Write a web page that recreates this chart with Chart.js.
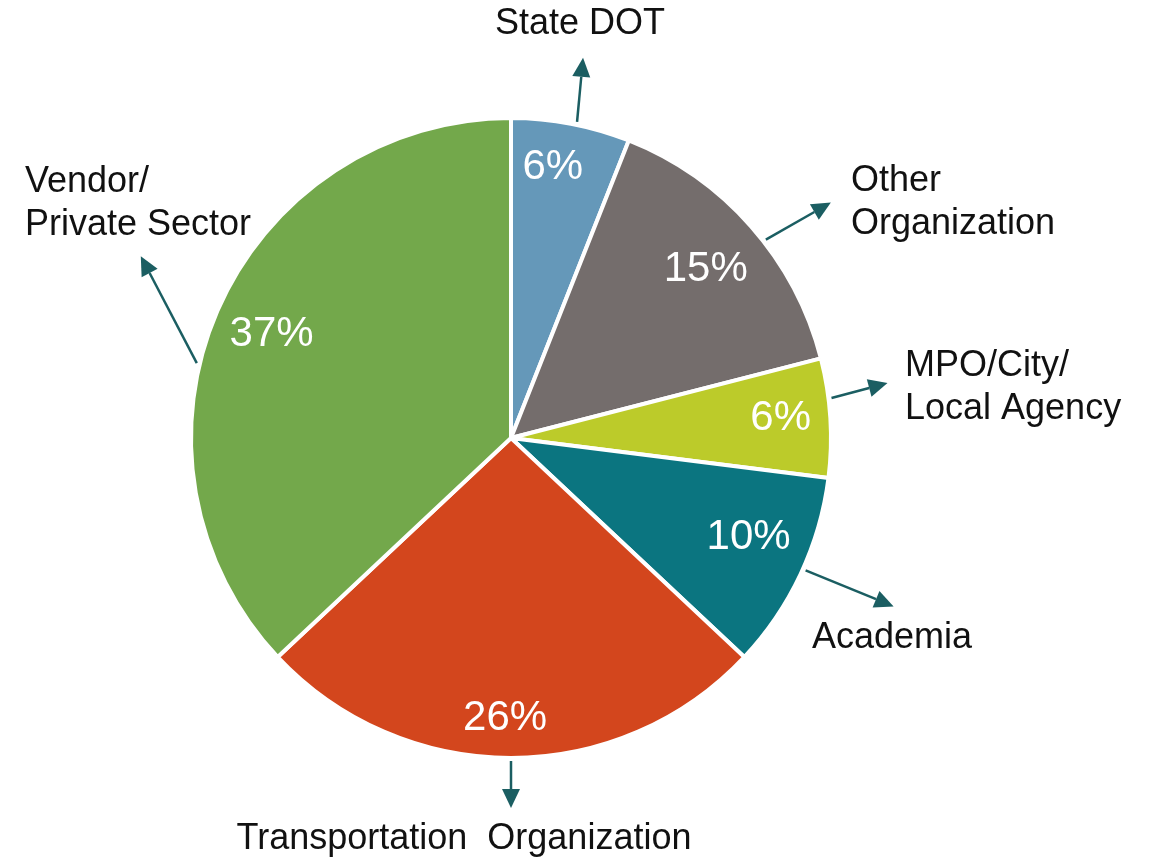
<!DOCTYPE html>
<html>
<head>
<meta charset="utf-8">
<script src="https://cdn.jsdelivr.net/npm/chart.js@4.4.1/dist/chart.umd.min.js"></script>
<style>
  html, body { margin: 0; padding: 0; background: #fff; }
  #wrap { width: 1152px; height: 859px; }
</style>
</head>
<body>
<div id="wrap"><canvas id="pie" width="1152" height="859"></canvas></div>
<script>
// data, clockwise from 12 o'clock
const categories = [
  ["State DOT"],
  ["Other", "Organization"],
  ["MPO/City/", "Local Agency"],
  ["Academia"],
  ["Transportation  Organization"],
  ["Vendor/", "Private Sector"]
];
const shares = [6, 15, 6, 10, 26, 37];
const sliceColors = ["#6598b9", "#746d6c", "#bccb2a", "#0b7580", "#d3461d", "#73a84b"];

// where each outside label sits (text anchor) and its arrow
const labelPos = [
  { x: 580, y: 24, align: "center" },
  { x: 851, y: 181, align: "left" },
  { x: 905, y: 366, align: "left" },
  { x: 812, y: 638, align: "left" },
  { x: 464, y: 839, align: "center" },
  { x: 25, y: 182, align: "left" }
];
// percent text: radius factor and angle shift (deg) from slice middle
const pctRadius = [0.855, 0.805, 0.845, 0.805, 0.875, 0.815];
const pctShift = [-2, 0.5, -0.6, -2.5, 1.2, 0];
// tail angle shift (deg) from slice middle, and arrow vector from tail
const arrowShift = [1, 3.5, -3.5, -1, 0, -10];
const arrowVec = [[6, -64], [65, -37], [56, -15], [88, 36], [0, 47], [-56, -107]];

const ARROW = "#1b5e62";

function drawArrow(ctx, x1, y1, x2, y2) {
  const a = Math.atan2(y2 - y1, x2 - x1);
  const len = 19, half = 9;
  const bx = x2 - len * Math.cos(a), by = y2 - len * Math.sin(a);
  ctx.strokeStyle = ARROW;
  ctx.lineWidth = 2.5;
  ctx.beginPath();
  ctx.moveTo(x1, y1);
  ctx.lineTo(bx, by);
  ctx.stroke();
  ctx.fillStyle = ARROW;
  ctx.beginPath();
  ctx.moveTo(x2, y2);
  ctx.lineTo(bx + half * Math.sin(a), by - half * Math.cos(a));
  ctx.lineTo(bx - half * Math.sin(a), by + half * Math.cos(a));
  ctx.closePath();
  ctx.fill();
}

const pieLabels = {
  id: "pieLabels",
  afterDatasetsDraw(chart) {
    const ctx = chart.ctx;
    const arcs = chart.getDatasetMeta(0).data;
    ctx.save();
    arcs.forEach((arc, i) => {
      const { x, y, startAngle, endAngle, outerRadius } = arc.getProps(["x", "y", "startAngle", "endAngle", "outerRadius"], true);
      const mid = (startAngle + endAngle) / 2;

      // percent inside the slice
      const r = outerRadius * pctRadius[i];
      const pa = mid + pctShift[i] * Math.PI / 180;
      ctx.fillStyle = "#ffffff";
      ctx.font = "42px 'Liberation Sans', Arial, sans-serif";
      ctx.textAlign = "center";
      ctx.textBaseline = "middle";
      ctx.fillText(shares[i] + "%", x + r * Math.cos(pa), y + r * Math.sin(pa));

      // arrow from the rim outward
      const t = mid + arrowShift[i] * Math.PI / 180;
      const tx = x + (outerRadius + 3) * Math.cos(t);
      const ty = y + (outerRadius + 3) * Math.sin(t);
      drawArrow(ctx, tx, ty, tx + arrowVec[i][0], ty + arrowVec[i][1]);

      // category text
      const p = labelPos[i];
      ctx.fillStyle = "#111111";
      ctx.font = "36px 'Liberation Sans', Arial, sans-serif";
      ctx.textAlign = p.align;
      categories[i].forEach((line, k) => {
        ctx.fillText(line, p.x, p.y + k * 43);
      });
    });
    ctx.restore();
  }
};

new Chart(document.getElementById("pie"), {
  type: "pie",
  data: {
    labels: categories.map(c => c.join(" ")),
    datasets: [{
      data: shares,
      backgroundColor: sliceColors,
      borderColor: "#ffffff",
      borderWidth: 4
    }]
  },
  options: {
    responsive: false,
    animation: false,
    layout: {
      padding: { left: 189, right: 319, top: 116, bottom: 99 }
    },
    plugins: {
      legend: { display: false },
      tooltip: { enabled: false }
    }
  },
  plugins: [pieLabels]
});
</script>
</body>
</html>
